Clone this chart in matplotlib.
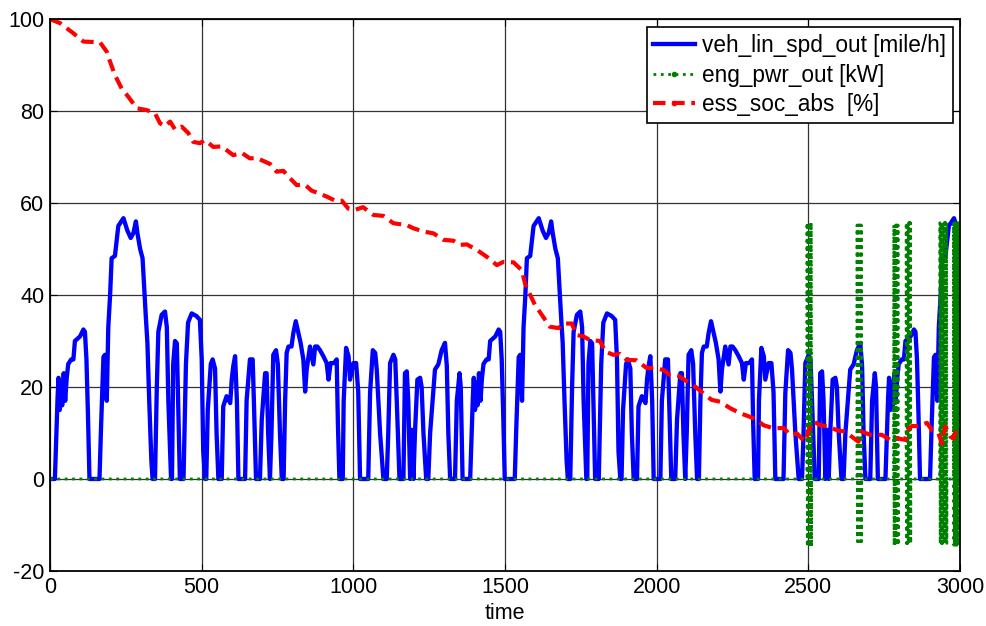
from matplotlib import pyplot as plt
from matplotlib.lines import Line2D
import numpy as np

# one drive cycle (time [s], speed [mile/h]); it repeats every 1369 s
cyc_t = [0, 16, 20, 25, 28, 32, 36, 40, 45, 50, 55, 60, 70, 77, 82, 99, 110, 115, 120, 125, 130,
         163, 168, 176, 181, 187, 192, 198, 203, 214, 225, 242, 255, 266, 275, 283, 288, 297, 305,
         310, 316, 321, 327, 334, 338, 346, 352, 357, 368, 379, 385, 390, 399, 402, 406, 412, 418,
         423, 428, 440, 448, 455, 467, 483, 494, 500, 505, 511, 515, 520, 530, 536, 544, 549, 555,
         566, 571, 582, 594, 599, 604, 610, 616, 621, 643, 648, 659, 668, 672, 679, 692, 698, 709,
         714, 719, 725, 730, 736, 745, 751, 758, 764, 770, 775, 780, 786, 796, 802, 810, 819, 826,
         835, 841, 846, 857, 868, 874, 881, 890, 901, 912, 918, 925, 936, 945, 949, 954, 965, 968,
         976, 984, 989, 1000, 1009, 1016, 1022, 1049, 1055, 1064, 1072, 1077, 1088, 1099, 1110,
         1115, 1121, 1132, 1138, 1143, 1152, 1165, 1170, 1176, 1181, 1187, 1192, 1198, 1203, 1211,
         1220, 1225, 1231, 1240, 1247, 1253, 1269, 1280, 1291, 1302, 1308, 1313, 1319, 1335, 1341,
         1350, 1354, 1360, 1369]
cyc_v = [0, 0, 8, 18, 22, 15, 21, 16, 23, 17, 22, 25, 26, 26, 30, 31, 32.5, 32, 26, 14, 0,
         0, 11, 26.5, 27, 17, 33, 40, 48, 48.5, 55, 56.7, 54, 52.4, 53.5, 56, 53.5, 50, 48,
         42, 35, 29.6, 17, 4, 0, 0, 20, 32, 35.7, 36.4, 33, 17, 0, 0, 25, 30, 29.5,
         15, 0, 0, 25, 34, 36, 35.4, 34.6, 26, 6, 0, 0, 15, 25, 26, 24, 10, 0,
         0, 15.8, 18, 16.5, 21.6, 24.5, 26.7, 17, 0, 0, 17, 26, 26, 17, 0, 0, 13, 23,
         23, 10, 0, 10, 27, 28, 25, 10, 0, 0, 17, 27.4, 28.8, 28.8, 31.7, 34.3, 31.7, 29.6,
         26, 19, 23.8, 28.8, 24.9, 28.8, 28.8, 28, 26.7, 25.2, 21.6, 25.2, 25.2, 26, 12, 0, 0, 17,
         28.5, 26.7, 21.6, 25.2, 25.2, 19, 0, 0, 18.7, 28, 27.4, 23.8, 10, 0, 0,
         10, 25.2, 27, 26, 17, 0, 0, 23, 23.4, 17, 0, 10.7, 0, 10, 21.6,
         22, 20, 10, 0, 0, 10, 23.8, 24.9, 28, 29.6, 24.6, 10, 0, 0, 17,
         23, 20, 0, 0]
cycle_len = 1369

# battery state of charge [%]
soc_t = [0, 33, 77, 110, 143, 165, 187, 198, 214, 236, 258, 286, 319, 346, 363, 379, 396, 412,
         434, 456, 472, 494, 511, 538, 566, 604, 632, 659, 681, 725, 747, 769, 791, 813, 840,
         862, 890, 912, 940, 962, 983, 1005, 1032, 1066, 1099, 1132, 1176, 1198, 1231, 1264,
         1297, 1330, 1352, 1374, 1407, 1440, 1473, 1495, 1528, 1555, 1566, 1583, 1599, 1621,
         1648, 1676, 1692, 1720, 1736, 1758, 1780, 1813, 1830, 1857, 1879, 1901, 1934, 1967,
         1989, 2022, 2044, 2072, 2093, 2121, 2154, 2181, 2209, 2242, 2275, 2308, 2330, 2352,
         2385, 2418, 2440, 2462, 2478, 2492, 2500, 2517, 2539, 2566, 2594, 2621, 2643, 2665,
         2676, 2704, 2742, 2770, 2797, 2819, 2825, 2841, 2863, 2891, 2907, 2929, 2940, 2951,
         2968, 2978, 2990, 3000]
soc_v = [100, 99.1, 96.9, 95.1, 95.0, 94.9, 92.9, 90.7, 87.8, 84.9, 83.1, 80.6, 80.2, 79.5, 77.3,
         76.7, 77.7, 76.0, 76.6, 75.2, 73.3, 73.0, 73.7, 72.2, 72.3, 70.4, 70.9, 69.7, 69.8, 68.5,
         66.8, 67.0, 65.4, 63.9, 64.0, 62.7, 62.0, 61.4, 60.5, 60.5, 58.8, 58.5, 59.1, 57.4, 57.2,
         55.6, 55.2, 54.5, 53.8, 53.4, 52.0, 51.8, 50.9, 51.0, 49.8, 48.3, 46.5, 47.2, 47.1, 45.4,
         42.5, 40.0, 37.8, 35.7, 33.1, 32.8, 33.8, 33.8, 31.3, 31.0, 30.2, 30.0, 27.7, 27.0, 27.2,
         25.9, 25.8, 24.1, 24.2, 23.7, 22.6, 22.4, 21.5, 20.4, 18.6, 17.2, 16.8, 15.4, 14.3, 13.5,
         12.8, 11.7, 11.0, 11.1, 9.6, 9.9, 8.8, 8.2, 10.6, 12.5, 11.7, 11.4, 10.6, 10.3, 9.2, 8.1,
         10.3, 9.6, 9.6, 8.5, 8.8, 8.5, 10.6, 11.5, 11.5, 12.2, 10.6, 9.9, 7.7, 11.4,
         9.2, 8.8, 11.0, 11.0]

# engine power bursts [kW]: start / end time and the two levels it swings between
burst_start = [2495, 2660, 2781, 2822, 2933, 2978]
burst_end = [2511, 2676, 2797, 2838, 2957, 2995]
burst_high = [55.7, 55.2, 55.2, 55.7, 55.7, 55.7]
burst_low = [-14.7, -13.6, -14.4, -14.0, -14.0, -14.4]

# build the series
ct = np.array(cyc_t, float)
cv = np.array(cyc_v, float)
spd_t = np.concatenate([ct + k * cycle_len for k in range(3)])
spd_v = np.concatenate([cv, cv, cv])
keep = spd_t <= 3000
spd_t = np.append(spd_t[keep], 3000)
spd_v = np.append(spd_v[keep], np.interp(3000 - 2 * cycle_len, ct, cv))

eng_t = [0.0]
eng_v = [0.0]
for s, e, hi, lo in zip(burst_start, burst_end, burst_high, burst_low):
    eng_t.append(s)
    eng_v.append(0.0)
    for i, tt in enumerate(np.arange(s + 0.5, e, 1.0)):
        eng_t.append(tt)
        eng_v.append(hi if i % 2 == 0 else lo)
    eng_t.append(e)
    eng_v.append(0.0)
eng_t.append(3000.0)
eng_v.append(0.0)

plt.rcParams['font.family'] = ['Liberation Sans', 'DejaVu Sans']
plt.rcParams['font.size'] = 15.5
plt.rcParams['axes.unicode_minus'] = False

fig = plt.figure(figsize=(9.87, 6.26), dpi=100)
ax = fig.add_axes([0.0507, 0.0879, 0.922, 0.8817])

ax.plot(spd_t, spd_v, color='#0000ff', lw=3.1, solid_joinstyle='round')
ax.plot(eng_t, eng_v, color='#008000', lw=2.0, linestyle=':')
ax.plot(soc_t, soc_v, color='#ff0000', lw=3.0, linestyle=(0, (3, 1.6)))

ax.set_xlim(0, 3000)
ax.set_ylim(-20, 100)
ax.set_xticks(np.arange(0, 3001, 500))
ax.set_yticks(np.arange(-20, 101, 20))
ax.grid(True, color='0.2', lw=0.9)
ax.tick_params(direction='in', length=5, top=True, right=True, pad=4, labelsize=15.5)
for sp in ax.spines.values():
    sp.set_linewidth(1.3)
ax.set_xlabel('time', fontsize=15.5, labelpad=4)

handles = [
    Line2D([], [], color='#0000ff', lw=3.1),
    Line2D([], [], color='#008000', lw=2.0, linestyle=':', marker='.', markersize=6),
    Line2D([], [], color='#ff0000', lw=3.0, linestyle=(0, (3, 1.6)), marker='.', markersize=6),
]
labels = ['veh_lin_spd_out [mile/h]', 'eng_pwr_out [kW]', 'ess_soc_abs  [%]']
leg = ax.legend(handles, labels, loc='upper right', bbox_to_anchor=(0.992, 0.9855),
                borderaxespad=0, fancybox=False, framealpha=1, edgecolor='black',
                handlelength=1.85, handletextpad=0.3, labelspacing=0.3, borderpad=0.3,
                numpoints=1, fontsize=16.3)
leg.get_frame().set_linewidth(1.2)

plt.savefig('out.png', dpi=100)
